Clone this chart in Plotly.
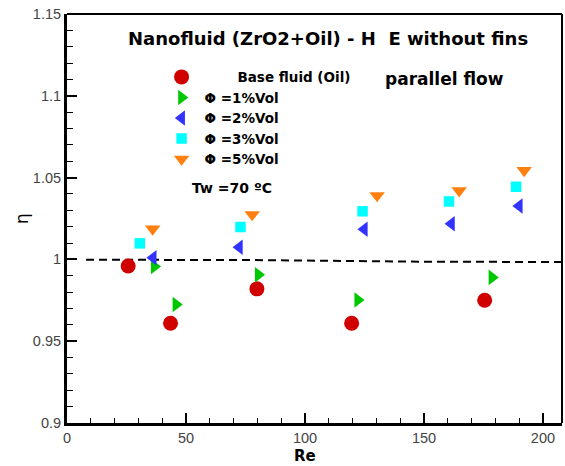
import plotly.graph_objects as go

# ---- data ----
re_base = [25.7, 43.5, 79.8, 119.6, 175.5]
eta_base = [0.996, 0.961, 0.982, 0.961, 0.975]

re_1 = [36.7, 45.8, 80.4, 122.2, 178.6]
eta_1 = [0.9957, 0.9724, 0.9906, 0.9752, 0.989]

re_2 = [36.2, 72.4, 124.9, 161.5, 190.0]
eta_2 = [1.001, 1.0074, 1.0184, 1.0218, 1.0326]

re_3 = [30.6, 72.9, 124.2, 160.5, 188.7]
eta_3 = [1.0098, 1.0198, 1.0294, 1.0354, 1.0444]

re_5 = [36.0, 77.8, 130.3, 164.8, 192.1]
eta_5 = [1.0186, 1.0274, 1.039, 1.042, 1.0544]

ref_re = [8, 78, 148, 208]
ref_eta = [0.9998, 0.9996, 0.9986, 0.9984]

x_ticks = [0, 50, 100, 150, 200]
x_labels = ["0", "50", "100", "150", "200"]
y_ticks = [0.9, 0.95, 1.0, 1.05, 1.1, 1.15]
y_labels = ["0.9", "0.95", "1", "1.05", "1.1", "1.15"]

names = ["Base fluid (Oil)", "\u03a6 =1%Vol", "\u03a6 =2%Vol", "\u03a6 =3%Vol", "\u03a6 =5%Vol"]

fig = go.Figure()

fig.add_trace(go.Scatter(x=ref_re, y=ref_eta, mode="lines",
                         line=dict(color="black", width=2, dash="8px,5px"),
                         showlegend=False, hoverinfo="skip"))

series = [
    (re_base, eta_base, "circle", "#D00000", 15),
    (re_1, eta_1, "triangle-right", "#00C800", 13.5),
    (re_2, eta_2, "triangle-left", "#3333FF", 13.5),
    (re_3, eta_3, "square", "#00FFFF", 10.5),
    (re_5, eta_5, "triangle-down", "#FF8010", 13.5),
]
for (xs, ys, sym, col, sz), nm in zip(series, names):
    label = ("\u00a0" * 7 + nm) if sym == "circle" else nm
    fig.add_trace(go.Scatter(x=xs, y=ys, mode="markers", name=label,
                             marker=dict(symbol=sym, color=col, size=sz,
                                         line=dict(width=0))))

tick_fam = "Arial, Liberation Sans, sans-serif"
bold_fam = "DejaVu Sans, sans-serif"
axis_common = dict(showline=True, linewidth=3, linecolor="black",
                   showgrid=False, zeroline=False, ticks="inside",
                   tickcolor="black", tickwidth=2, ticklen=10, automargin=False,
                   tickfont=dict(family=tick_fam, size=14.5, color="#444444"))

fig.update_layout(
    width=565, height=466,
    margin=dict(l=67, r=3, t=14, b=43),
    paper_bgcolor="white", plot_bgcolor="white",
    font=dict(family=tick_fam, color="black"),
    xaxis=dict(range=[0, 208], tickvals=x_ticks, ticktext=x_labels,
               minor=dict(ticks="inside", ticklen=5, tickwidth=1, dtick=10,
                          tickcolor="black", showgrid=False),
               **axis_common),
    yaxis=dict(range=[0.9, 1.15], tickvals=y_ticks, ticktext=y_labels,
               minor=dict(ticks="inside", ticklen=6, tickwidth=1, dtick=0.01,
                          tickcolor="black", showgrid=False),
               title=dict(text="\u03b7", font=dict(family=bold_fam, size=17),
                          standoff=0),
               **axis_common),
    legend=dict(x=0.185, y=0.8836, xanchor="left", yanchor="top",
                bgcolor="rgba(0,0,0,0)", borderwidth=0, itemwidth=36,
                font=dict(family=bold_fam, size=13.5, color="black", weight="bold"),
                tracegroupgap=0),
    shapes=[
        dict(type="line", xref="paper", yref="paper", x0=0, x1=1, y0=1, y1=1,
             line=dict(color="black", width=2)),
        dict(type="line", xref="paper", yref="paper", x0=1, x1=1, y0=0, y1=1,
             line=dict(color="black", width=2)),
    ],
    annotations=[
        dict(text="<b>Re</b>", xref="paper", yref="paper", x=0.48, y=-0.0819,
             xanchor="center", yanchor="middle", showarrow=False,
             font=dict(family=bold_fam, size=15, color="black")),
        dict(text="<b>Nanofluid (ZrO2+Oil) - H  E without fins</b>",
             xref="paper", yref="paper", x=0.527, y=0.9413,
             xanchor="center", yanchor="middle", showarrow=False,
             font=dict(family=bold_fam, size=18, color="black")),
        dict(text="<b>parallel flow</b>", xref="paper", yref="paper",
             x=0.762, y=0.841, xanchor="center", yanchor="middle",
             showarrow=False, font=dict(family=bold_fam, size=17, color="black")),
        dict(text="<b>Tw =70 \u00baC</b>", xref="paper", yref="paper",
             x=0.248, y=0.5746, xanchor="left", yanchor="middle",
             showarrow=False, font=dict(family=bold_fam, size=14, color="black")),
    ],
)

fig.write_html("out.html", config={"displayModeBar": False},
               post_script="document.body.style.margin='0';document.body.style.padding='0';")
